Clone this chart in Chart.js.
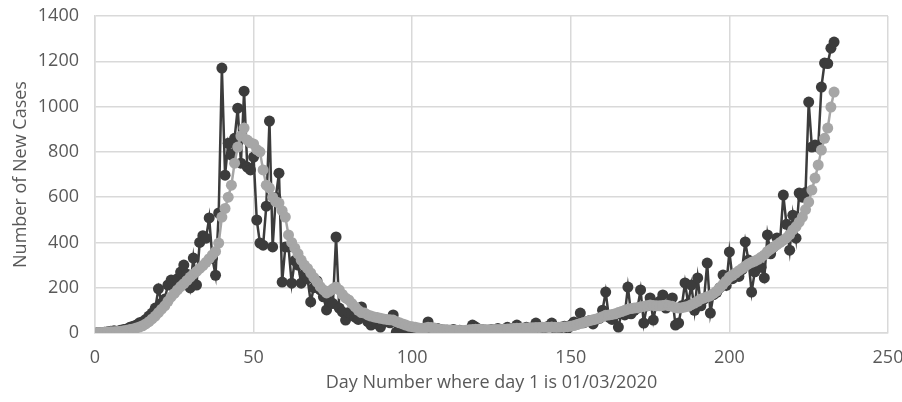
<!DOCTYPE html>
<html>
<head>
<meta charset="utf-8">
<script src="https://cdn.jsdelivr.net/npm/chart.js@4.4.1/dist/chart.umd.min.js"></script>
<style>
  body { margin: 0; background: #fff; }
  #wrap { width: 902px; height: 402px; }
</style>
</head>
<body>
<div id="wrap"><canvas id="chart" width="902" height="402"></canvas></div>
<script>
// New cases per day (day 1 = 01/03/2020)
const dailyCases = [
  2, 1, 3, 5, 8, 10, 8, 12, 15, 18,
  25, 30, 35, 45, 50, 60, 75, 88, 110, 195,
  132, 150, 212, 234, 200, 240, 269, 300, 260, 199,
  331, 212, 400, 430, 419, 508, 330, 255, 530, 1170,
  697, 838, 786, 860, 993, 750, 1068, 733, 720, 777,
  499, 397, 388, 560, 936, 380, 600, 706, 225, 380,
  380, 220, 320, 300, 220, 260, 240, 137, 200, 230,
  190, 160, 102, 140, 130, 424, 110, 93, 57, 90,
  80, 70, 60, 115, 70, 50, 35, 50, 40, 26,
  60, 50, 45, 80, 4, 30, 20, 25, 15, 10,
  20, 15, 10, 20, 49, 15, 10, 20, 15, 10,
  12, 8, 15, 10, 12, 8, 10, 15, 35, 26,
  10, 15, 8, 12, 15, 10, 20, 15, 10, 25,
  20, 15, 35, 20, 15, 25, 20, 15, 44, 20,
  15, 25, 30, 44, 20, 15, 25, 30, 20, 35,
  49, 40, 88, 45, 50, 55, 40, 60, 65, 101,
  181, 70, 60, 80, 26, 90, 80, 203, 85, 100,
  110, 190, 44, 120, 155, 57, 130, 140, 168, 110,
  130, 155, 35, 44, 120, 221, 130, 212, 100, 243,
  120, 150, 309, 88, 170, 180, 200, 256, 210, 358,
  240, 260, 250, 280, 402, 322, 181, 270, 300, 290,
  243, 433, 350, 380, 420, 410, 609, 480, 366, 520,
  419, 618, 600, 620, 1020, 821, 830, 821, 1086, 1192,
  1190, 1258, 1285
];

// smoothed series (grey dots)
const smoothedCases = [
  2, 2, 3, 4, 5, 6, 7, 8, 10, 12,
  15, 18, 22, 26, 32, 40, 50, 62, 75, 90,
  105, 120, 140, 160, 175, 190, 205, 218, 232, 247,
  260, 272, 285, 298, 312, 328, 345, 360, 397, 512,
  550, 600, 653, 750, 821, 870, 905, 852, 840, 835,
  810, 800, 720, 653, 640, 600, 580, 574, 540, 512,
  433, 400, 375, 350, 322, 300, 285, 265, 245, 225,
  205, 190, 177, 185, 195, 203, 190, 170, 155, 146,
  130, 115, 100, 90, 88, 80, 75, 71, 68, 65,
  62, 60, 58, 57, 50, 45, 40, 35, 30, 28,
  25, 22, 20, 22, 25, 24, 22, 18, 16, 15,
  14, 13, 12, 12, 11, 11, 12, 14, 16, 17,
  17, 16, 15, 14, 14, 15, 16, 16, 17, 18,
  19, 20, 21, 21, 22, 22, 23, 23, 24, 24,
  25, 25, 25, 26, 25, 25, 26, 27, 28, 30,
  33, 37, 42, 46, 50, 55, 58, 62, 66, 72,
  78, 80, 82, 85, 90, 95, 100, 105, 108, 110,
  112, 115, 118, 120, 124, 122, 120, 120, 122, 124,
  120, 118, 112, 110, 112, 115, 118, 125, 132, 140,
  150, 155, 160, 165, 175, 185, 200, 215, 230, 247,
  255, 265, 275, 285, 295, 305, 312, 318, 325, 335,
  345, 360, 370, 380, 390, 400, 410, 420, 435, 455,
  470, 490, 512, 545, 578, 631, 684, 742, 808, 860,
  905, 998, 1064
];

const xTicks = [0, 50, 100, 150, 200, 250];
const yTicks = [0, 200, 400, 600, 800, 1000, 1200, 1400];

const days = dailyCases.map((_, i) => i + 1);

const textColor = '#595959';
const gridColor = '#d9d9d9';
const font = { family: "'Open Sans', sans-serif", size: 18 };

new Chart(document.getElementById('chart'), {
  type: 'scatter',
  data: {
    datasets: [
      {
        label: 'Smoothed',
        data: days.map((d, i) => ({ x: d, y: smoothedCases[i] })),
        showLine: true,
        borderColor: '#a6a6a6',
        backgroundColor: '#a6a6a6',
        borderWidth: 2.5,
        pointRadius: 5.5,
        pointBorderWidth: 0,
        order: 0
      },
      {
        label: 'New cases',
        data: days.map((d, i) => ({ x: d, y: dailyCases[i] })),
        showLine: true,
        borderColor: '#3c3c3c',
        backgroundColor: '#3c3c3c',
        borderWidth: 2.5,
        pointRadius: 5.5,
        pointBorderWidth: 0,
        order: 1
      }
    ]
  },
  options: {
    responsive: false,
    animation: false,
    layout: { padding: { left: 6, right: 14, top: 16, bottom: 4 } },
    plugins: { legend: { display: false }, tooltip: { enabled: false } },
    scales: {
      x: {
        type: 'linear',
        min: 0, max: 250,
        afterBuildTicks: s => { s.ticks = xTicks.map(v => ({ value: v })); },
        afterFit: s => { s.height = 65; s.paddingLeft = 0; s.paddingRight = 0; },
        grid: { color: gridColor, lineWidth: 1.5, drawTicks: false },
        border: { color: gridColor, width: 1.5 },
        ticks: { color: textColor, font, padding: 14, callback: v => String(v) },
        title: { display: true, text: 'Day Number where day 1 is 01/03/2020', color: textColor, font }
      },
      y: {
        min: 0, max: 1400,
        afterBuildTicks: s => { s.ticks = yTicks.map(v => ({ value: v })); },
        afterFit: s => { s.width = 89; s.paddingTop = 0; s.paddingBottom = 0; },
        grid: { color: gridColor, lineWidth: 1.5, drawTicks: false },
        border: { color: gridColor, width: 1.5 },
        ticks: { color: textColor, font, padding: 16, callback: v => String(v) },
        title: { display: true, text: 'Number of New Cases', color: textColor, font }
      }
    }
  }
});
</script>
</body>
</html>
